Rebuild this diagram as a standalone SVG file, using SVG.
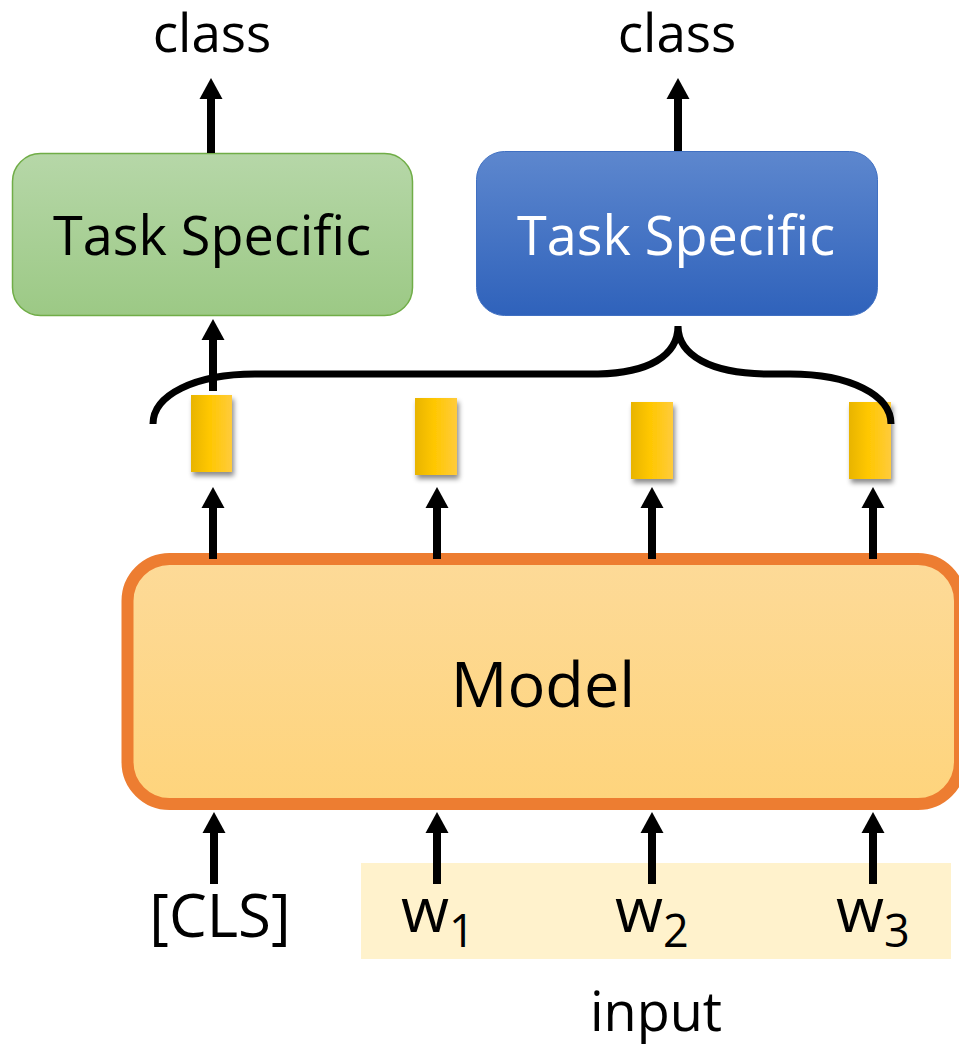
<svg xmlns="http://www.w3.org/2000/svg" width="959" height="1047" viewBox="0 0 959 1047">
  <style>
    text { font-family: "Open Sans", "Noto Sans", sans-serif; fill: #000; }
    .label { text-anchor: middle; }
    .arrow { stroke: #000; stroke-width: 8; fill: none; marker-end: url(#ah); }
    .brace { stroke: #000; stroke-width: 7; fill: none; stroke-linecap: butt; }
    .bar { fill: url(#barFill); filter: url(#barShadow); }
  </style>
  <defs>
    <linearGradient id="greenFill" x1="0" y1="0" x2="0" y2="1">
      <stop offset="0" stop-color="#B6D7A8"/>
      <stop offset="1" stop-color="#9CC985"/>
    </linearGradient>
    <linearGradient id="blueFill" x1="0" y1="0" x2="0" y2="1">
      <stop offset="0" stop-color="#5D87CE"/>
      <stop offset="1" stop-color="#2F62BB"/>
    </linearGradient>
    <linearGradient id="modelFill" x1="0" y1="0" x2="0" y2="1">
      <stop offset="0" stop-color="#FDDA98"/>
      <stop offset="1" stop-color="#FED47C"/>
    </linearGradient>
    <linearGradient id="barFill" x1="0" y1="0" x2="1" y2="0">
      <stop offset="0" stop-color="#E8B400"/>
      <stop offset="0.45" stop-color="#FFC700"/>
      <stop offset="1" stop-color="#FFCB3C"/>
    </linearGradient>
    <filter id="barShadow" x="-30%" y="-20%" width="170%" height="150%">
      <feDropShadow dx="2" dy="4" stdDeviation="2.5" flood-color="#000" flood-opacity="0.45"/>
    </filter>
    <marker id="ah" markerUnits="userSpaceOnUse" markerWidth="24" markerHeight="24" viewBox="0 -12 24 24" refX="0" refY="0" orient="auto">
      <path d="M0,-11.5 L21,0 L0,11.5 Z" fill="#000"/>
    </marker>
  </defs>

  <!-- input token strip -->
  <g id="input-strip">
    <rect x="361" y="863" width="590" height="96" fill="#FFF2CC"/>
    <text class="label" x="656" y="1031" font-size="54">input</text>
  </g>

  <!-- task heads -->
  <g id="task-left">
    <rect x="12.5" y="153.5" width="400" height="162" rx="28" fill="url(#greenFill)" stroke="#70AD47" stroke-width="1.5"/>
    <text class="label" x="212" y="255" font-size="54">Task Specific</text>
  </g>
  <g id="task-right">
    <rect x="476.5" y="151.5" width="401" height="164" rx="28" fill="url(#blueFill)" stroke="#4070C2" stroke-width="1"/>
    <text class="label" x="676" y="255" font-size="54" style="fill:#fff">Task Specific</text>
  </g>

  <!-- output labels -->
  <g id="class-left">
    <text class="label" x="212" y="52" font-size="53">class</text>
  </g>
  <g id="class-right">
    <text class="label" x="677" y="52" font-size="53">class</text>
  </g>

  <!-- encoder -->
  <g id="model">
    <rect x="127.5" y="559" width="832.5" height="245" rx="42" fill="url(#modelFill)" stroke="#ED7D31" stroke-width="12"/>
    <text class="label" x="543" y="707" font-size="63">Model</text>
  </g>

  <!-- output vectors -->
  <g id="vec-cls"><rect class="bar" x="191" y="395" width="41" height="77"/></g>
  <g id="vec-w1"><rect class="bar" x="415" y="398" width="42" height="77"/></g>
  <g id="vec-w2"><rect class="bar" x="631" y="402" width="42" height="77"/></g>
  <g id="vec-w3"><rect class="bar" x="849" y="402" width="42" height="77"/></g>

  <!-- input tokens -->
  <g id="tok-cls">
    <text class="label" x="220" y="937" font-size="60">[CLS]</text>
  </g>
  <g id="tok-w1">
    <text x="401" y="932" font-size="62">w<tspan font-size="45" dy="15">1</tspan></text>
  </g>
  <g id="tok-w2">
    <text x="615" y="932" font-size="62">w<tspan font-size="45" dy="15">2</tspan></text>
  </g>
  <g id="tok-w3">
    <text x="836" y="932" font-size="62">w<tspan font-size="45" dy="15">3</tspan></text>
  </g>

  <!-- connectors -->
  <g id="connectors">
    <!-- brace grouping all token vectors -->
    <path class="brace" d="M153,424 C153,395 195,374 255,374 L598,374 C648,373 678,356 678,326 C678,355 710,374 770,374 L790,374 C850,374 891,395 891,424"/>
    <!-- heads to class -->
    <line class="arrow" x1="211" y1="153" x2="211" y2="99"/>
    <line class="arrow" x1="678" y1="151" x2="678" y2="99"/>
    <!-- [CLS] vector to left head -->
    <line class="arrow" x1="213" y1="391" x2="213" y2="340"/>
    <!-- model to vectors -->
    <line class="arrow" x1="213" y1="559" x2="213" y2="508"/>
    <line class="arrow" x1="437" y1="559" x2="437" y2="508"/>
    <line class="arrow" x1="652" y1="559" x2="652" y2="508"/>
    <line class="arrow" x1="873" y1="559" x2="873" y2="508"/>
    <!-- tokens to model -->
    <line class="arrow" x1="214" y1="884" x2="214" y2="833"/>
    <line class="arrow" x1="437" y1="884" x2="437" y2="833"/>
    <line class="arrow" x1="652" y1="884" x2="652" y2="833"/>
    <line class="arrow" x1="873" y1="884" x2="873" y2="833"/>
  </g>
</svg>
